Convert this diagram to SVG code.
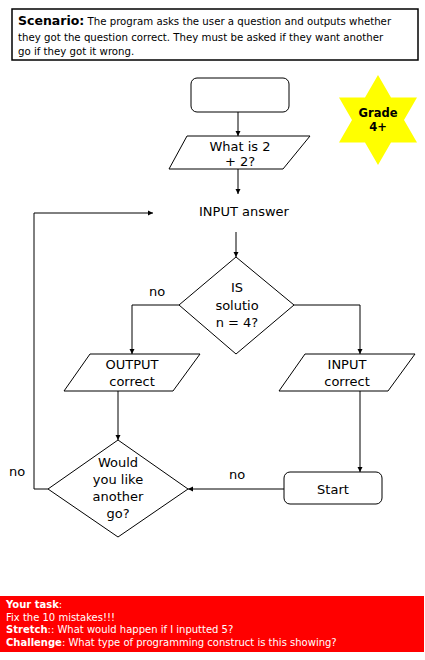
<svg xmlns="http://www.w3.org/2000/svg" width="425" height="660" viewBox="0 0 425 660">
<style>
text{font-family:"Comic Sans MS","DejaVu Sans",sans-serif;fill:#000}
.sh{fill:#fff;stroke:#000;stroke-width:1}
.t{font-size:13px;text-anchor:middle}
.c{fill:none;stroke:#000;stroke-width:1}
.s{font-size:10.2px}
.w{fill:#fff;font-size:10px}
</style>
<defs>
<marker id="a" markerWidth="6" markerHeight="6" refX="5" refY="3" orient="auto" markerUnits="userSpaceOnUse">
<path d="M0,0.5 L5,3 L0,5.5 Z" fill="#000"/>
</marker>
</defs>
<g id="scenario">
<rect x="12" y="9" width="406" height="51" fill="#fff" stroke="#000" stroke-width="1.5"/>
<text x="18" y="25" class="s"><tspan font-weight="bold" font-size="12.5">Scenario:</tspan>  The program asks the user a question and outputs whether</text>
<text x="18" y="41" class="s">they got the question correct. They must be asked if they want another</text>
<text x="18" y="55" class="s">go if they got it wrong.</text>
</g>
<g id="grade">
<polygon points="378,75 391,97.5 417,97.5 404,120 417,142.5 391,142.5 378,165 365,142.5 339,142.5 352,120 339,97.5 365,97.5" fill="#ffff00"/>
<text x="378" y="117" font-size="11.5" font-weight="bold" text-anchor="middle">Grade</text>
<text x="378" y="131" font-size="11.5" font-weight="bold" text-anchor="middle">4+</text>
</g>
<g id="top">
<rect x="191" y="78" width="98" height="34" rx="6" class="sh"/>
</g>
<g id="question">
<polygon points="187,136 310,136 283,169 169,169" class="sh"/>
<text x="240" y="151" class="t">What is 2</text>
<text x="240" y="166" class="t">+ 2?</text>
</g>
<g id="input-answer">
<text x="244" y="216" class="t">INPUT answer</text>
</g>
<g id="decision1">
<polygon points="236,257 294,305 236,354 179,305" class="sh"/>
<text x="237" y="292" class="t">IS</text>
<text x="237" y="310" class="t">solutio</text>
<text x="237" y="327" class="t">n = 4?</text>
</g>
<g id="output-correct">
<polygon points="90,354 200,354 173,391 64,391" class="sh"/>
<text x="132" y="369" class="t">OUTPUT</text>
<text x="132" y="386" class="t">correct</text>
</g>
<g id="input-correct">
<polygon points="305,354 415,354 388,391 279,391" class="sh"/>
<text x="347" y="369" class="t">INPUT</text>
<text x="347" y="386" class="t">correct</text>
</g>
<g id="decision2">
<polygon points="118,440 188,489 118,537 48,489" class="sh"/>
<text x="118" y="467" class="t">Would</text>
<text x="118" y="484" class="t">you like</text>
<text x="118" y="501" class="t">another</text>
<text x="118" y="518" class="t">go?</text>
</g>
<g id="start">
<rect x="284" y="472" width="98" height="32" rx="6" class="sh"/>
<text x="333" y="494" class="t">Start</text>
</g>
<g id="connectors">
<line x1="238" y1="112" x2="238" y2="136" class="c" marker-end="url(#a)"/>
<line x1="238" y1="169" x2="238" y2="194" class="c" marker-end="url(#a)"/>
<line x1="236" y1="232" x2="236" y2="257" class="c" marker-end="url(#a)"/>
<polyline points="179,305 132,305 132,354" class="c" marker-end="url(#a)"/>
<polyline points="294,305 360,305 360,354" class="c" marker-end="url(#a)"/>
<line x1="118" y1="391" x2="118" y2="440" class="c" marker-end="url(#a)"/>
<line x1="360" y1="391" x2="360" y2="472" class="c" marker-end="url(#a)"/>
<line x1="284" y1="489" x2="188" y2="489" class="c" marker-end="url(#a)"/>
<polyline points="48,489 34,489 34,213 153,213" class="c" marker-end="url(#a)"/>
<text x="157" y="296" class="t">no</text>
<text x="237" y="479" class="t">no</text>
<text x="17" y="476" class="t">no</text>
</g>
<g id="task">
<rect x="0" y="596" width="424" height="56" fill="#ff0000"/>
<text x="6" y="608" class="w"><tspan font-weight="bold">Your task</tspan>:</text>
<text x="6" y="621" class="w">Fix the 10 mistakes!!!</text>
<text x="6" y="633" class="w"><tspan font-weight="bold">Stretch</tspan>:: What would happen if I inputted 5?</text>
<text x="6" y="646" class="w"><tspan font-weight="bold">Challenge</tspan>: What type of programming construct is this showing?</text>
</g>
</svg>
